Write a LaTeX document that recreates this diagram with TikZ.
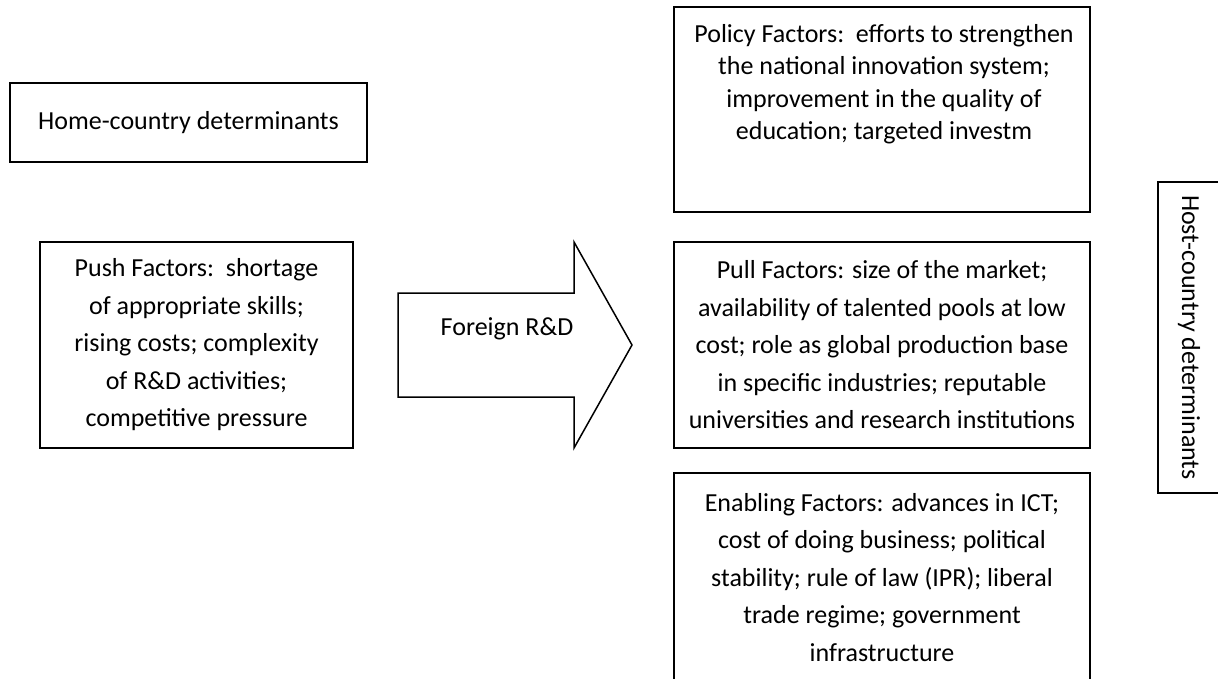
\documentclass[tikz,border=0pt]{standalone}
\usepackage{fontspec}
\setmainfont{Carlito}
\begin{document}
\begin{tikzpicture}[x=1pt,y=-1pt,
  box/.style={draw=black, line width=1.5pt, rectangle, inner sep=0pt, align=center,
    font=\fontsize{26}{37.5}\selectfont},
  plain/.style={inner sep=0pt, align=center, font=\fontsize{26}{37.5}\selectfont},
  arrowshape/.style={draw=black, line width=1.5pt, line join=miter}
]
\useasboundingbox (0,0) rectangle (1218,679);

% left column
\node[box, minimum width=357pt, minimum height=79pt] (home) at (188.5,122.5)
  {Home-country determinants};
\node[box, minimum width=313pt, minimum height=206pt] (push) at (196.5,345)
  {Push Factors:\ \ shortage\\of appropriate skills;\\rising costs; complexity\\of R\&D activities;\\competitive pressure};

% arrow
\coordinate (a1) at (398,293);
\coordinate (a2) at (574,293);
\coordinate (a3) at (574,242);
\coordinate (a4) at (632,345);
\coordinate (a5) at (574,448);
\coordinate (a6) at (574,397);
\coordinate (a7) at (398,397);
\draw[arrowshape] (a1) -- (a2) -- (a3) -- (a4) -- (a5) -- (a6) -- (a7) -- cycle;
\node[plain] (rd) at (507,329) {Foreign R\&D};

% right column
\node[box, minimum width=416pt, minimum height=205pt] (policy) at (882,109.5) {};
\node[plain, font=\fontsize{26}{32.5}\selectfont] (policytxt) at (884,84)
  {Policy Factors:\ \ efforts to strengthen\\the national innovation system;\\improvement in the quality of\\education; targeted investm};
\node[box, minimum width=416pt, minimum height=206pt] (pull) at (882,345)
  {Pull Factors: size of the market;\\availability of talented pools at low\\cost; role as global production base\\in specific industries; reputable\\universities and research institutions};
\node[box, minimum width=416pt, minimum height=209pt] (enab) at (882,577.5)
  {Enabling Factors: advances in ICT;\\cost of doing business; political\\stability; rule of law (IPR); liberal\\trade regime; government\\infrastructure};

% vertical box
\node[box, rotate=-90, minimum width=311pt, minimum height=62pt] (host) at (1189,337.5)
  {Host-country determinants};
\end{tikzpicture}
\end{document}
